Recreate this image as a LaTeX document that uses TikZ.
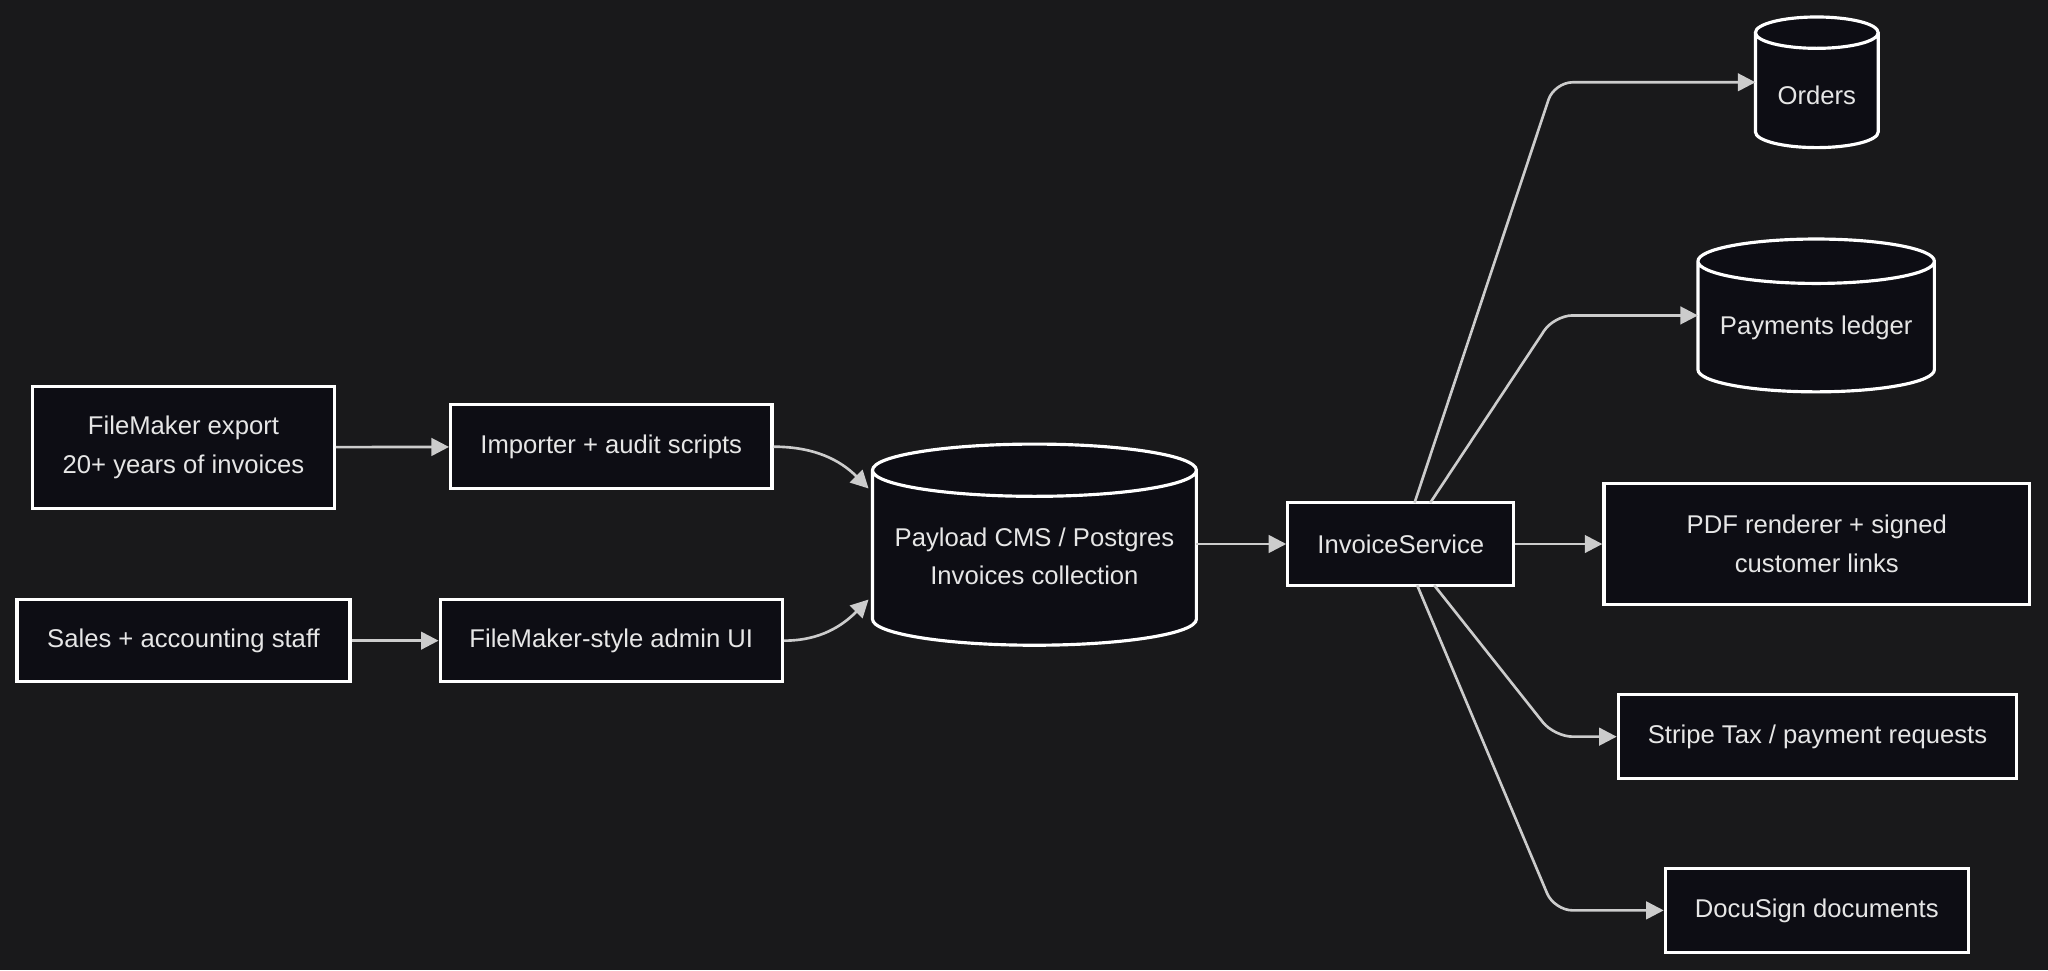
\documentclass[tikz,border=0pt]{standalone}
\usepackage{fontspec}
\setmainfont{Liberation Sans}
\usetikzlibrary{arrows.meta,backgrounds}
\newdimen\pxu
\pxu=0.013061cm
\definecolor{bgcol}{HTML}{19191B}
\definecolor{nodecol}{HTML}{0D0D14}
\definecolor{txtcol}{HTML}{E6E6E6}
\definecolor{linecol}{HTML}{CCCCCC}
% cylinder body behind a node: name, top y, bottom y, ellipse radius, half width
\newcommand\cylbody[5]{%
	\path (#1.west) coordinate (#1-l);
	\draw[white, line width=0.9pt, fill=nodecol]
		(#1-l |- 0,#2+#4) -- (#1-l |- 0,#3-#4)
		arc[start angle=180, end angle=0, x radius=#5, y radius=#4]
		-- ++(0,#2-#3+2*#4)
		arc[start angle=0, end angle=-180, x radius=#5, y radius=#4]
		arc[start angle=180, end angle=0, x radius=#5, y radius=#4];
}
\begin{document}
\begin{tikzpicture}[x=\pxu, y=-\pxu]
		\tikzset{
			every node/.style={
				draw=white,
				line width=0.9pt,
				fill=nodecol,
				text=txtcol,
				align=center,
				font=\fontsize{7.3}{11}\selectfont,
				inner sep=0pt
			},
			box/.style={
				rectangle
			},
			store/.style={
				rectangle,
				draw=none,
				fill=none,
				outer sep=0pt
			},
			line/.style={
				-{Triangle[length=5pt,width=5pt]},
				draw=linecol,
				line width=0.75pt
			}
		}

		\node[box, minimum width=231\pxu, minimum height=93\pxu] (export) at (140.5, 342.5)
			{FileMaker export\\20+ years of invoices};
		\node[box, minimum width=246\pxu, minimum height=64\pxu] (importer) at (468, 342)
			{Importer + audit scripts};
		\node[box, minimum width=255\pxu, minimum height=63\pxu] (staff) at (140.5, 490.5)
			{Sales + accounting staff};
		\node[box, minimum width=262\pxu, minimum height=63\pxu] (admin) at (468, 490.5)
			{FileMaker-style admin UI};

		\node[store, minimum width=248\pxu] (payload) at (792, 426)
			{Payload CMS / Postgres\\Invoices collection};

		\node[box, minimum width=173\pxu, minimum height=63\pxu] (service) at (1072.5, 416.5)
			{InvoiceService};

		\node[store, minimum width=94\pxu] (orders) at (1391, 73)
			{Orders};
		\node[store, minimum width=181\pxu] (ledger) at (1390.5, 251)
			{Payments ledger};
		\node[box, minimum width=326\pxu, minimum height=93\pxu] (pdf) at (1391, 416.5)
			{PDF renderer + signed\\customer links};
		\node[box, minimum width=305\pxu, minimum height=64\pxu] (stripe) at (1391.5, 564)
			{Stripe Tax / payment requests};
		\node[box, minimum width=232\pxu, minimum height=64\pxu] (docusign) at (1391, 697)
			{DocuSign documents};

		\begin{pgfonlayer}{background}
			\fill[bgcol] (0,0) rectangle (1568,743);
			\cylbody{payload}{340}{494}{20}{124}
			\cylbody{orders}{13}{113}{12}{47}
			\cylbody{ledger}{183}{300}{17}{90.5}
		\end{pgfonlayer}

		\coordinate (in-top) at (665, 374);
		\coordinate (in-bot) at (665, 459);

		\draw[line] (export) -- (importer);
		\draw[line] (staff) -- (admin);
		\draw[line] (importer.east) to[out=0, in=135] (in-top);
		\draw[line] (admin.east) to[out=0, in=225] (in-bot);
		\draw[line] (payload.east |- service) -- (service);

		\draw[line, rounded corners=14\pxu] (1083, 385) -- (1190, 63) -- (orders.west |- 0, 63);
		\draw[line, rounded corners=14\pxu] (1095, 385) -- (1190, 241.5) -- (ledger.west |- 0, 241.5);
		\draw[line] (service) -- (pdf);
		\draw[line, rounded corners=14\pxu] (1098, 448) -- (1190, 564) -- (stripe.west);
		\draw[line, rounded corners=14\pxu] (1085, 448) -- (1190, 697) -- (docusign.west);

	\end{tikzpicture}
\end{document}
